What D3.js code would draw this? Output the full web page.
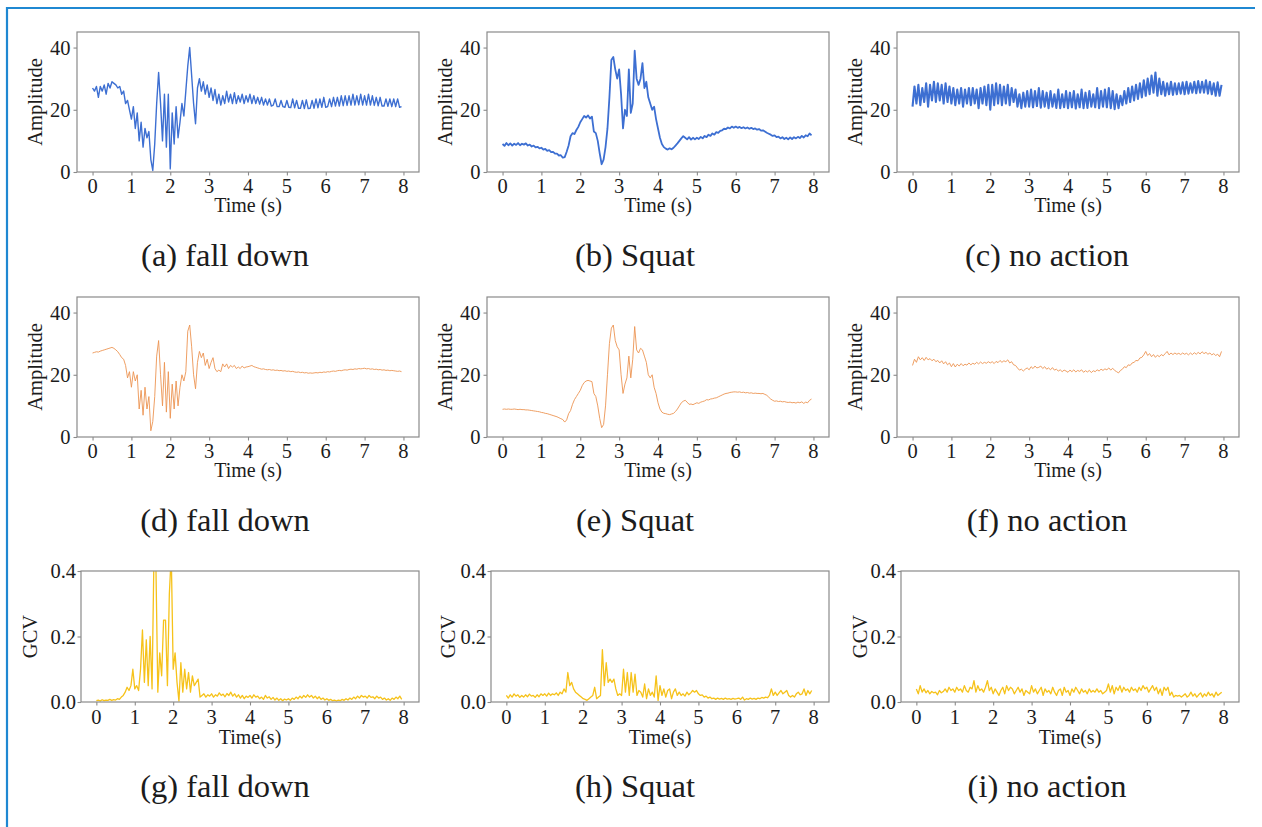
<!DOCTYPE html>
<html>
<head>
<style>
    body { margin: 0; background: #fff; }
    text { font-family: "Liberation Serif", "Times New Roman", serif; fill: #1c1c1c; }
    .frame { fill: none; stroke: #8a8a8a; stroke-width: 1.2; }
    .tick line { stroke: #8a8a8a; stroke-width: 1.1; }
</style>
<script src="https://d3js.org/d3.v7.min.js"></script>
<script>
// sample spacing of every trace (s)
var step = 0.05;
var timeTicks = [0, 1, 2, 3, 4, 5, 6, 7, 8];
var ampTicks = [0, 20, 40];
var gcvTicks = [0.0, 0.2, 0.4];
var captions = ["(a) fall down", "(b) Squat", "(c) no action",
                "(d) fall down", "(e) Squat", "(f) no action",
                "(g) fall down", "(h) Squat", "(i) no action"];

// row 1: raw amplitude
var fallRaw = [27,26,27.5,24,27.5,26,28,25,28.5,27,29,28.5,28,27,27.5,25,26,22,23,20,
    17,21,14,19,10,16,8,14,11,13,4,0.5,9,22,32,22,10,25,8,25,
    1,19,9,21,11,16,22,18,26,34,40,31,22,15.5,27,30,26,29,25,28,
    24,27,23,26.5,22,25,21.5,24.5,22,26,22.5,25,22,25.5,22,24.5,22.5,25,22,24.5,
    22.5,25,22,24.5,22,24,21.8,24,21.5,23.5,21.5,23.5,21.2,21.5,23.5,21,21,23,21,20.8,
    23,20.8,20.7,23.5,20.6,23,20.5,20.5,23,20.4,23.2,20.4,20.5,23,20.5,23.5,20.6,23.5,20.8,24,
    20.8,21,23.5,21,24,21.2,24,21.2,24.5,21.3,24.5,21.4,24.5,21.5,25,21.5,24.5,21.6,25,21.5,
    24.5,21.5,25,21.5,24.5,21.4,24,21.3,24,21.2,21.2,23.5,21.1,23.5,21,23.5,21,23.5,20.8,21];
var squatRaw = [9,8.4,9.3,8.6,9.2,8.5,9.1,8.7,9.3,8.6,9.1,8.8,9.2,8.5,8.8,8.2,8.5,7.9,8.1,7.6,
    7.8,7.2,7.4,6.8,7,6.4,6.5,5.9,5.9,5.3,5.4,4.6,4.8,6.5,8.5,11.5,12.5,12.2,13.5,14.5,
    16,17,18,17.5,18.2,17.2,17.8,13,12.5,10,6,2.5,4,8,14,24,36,37,33,30,
    33,25,14,20,18,33,19,22,39,30,28,30,35,27,29,24,22,20,21,17,
    14,11,9,8,7.5,7.2,7.6,7.3,7.8,8.5,9.2,10,10.8,11.5,11,10.5,11.2,10.4,11,10.5,
    11,10.6,11.3,10.8,11.6,11.2,12,11.6,12.4,12,12.8,12.6,13.2,13.4,13.9,13.8,14.3,14,14.6,14.2,
    14.6,14.2,14.5,14.1,14.4,14,14.3,13.9,14.2,13.8,14,13.6,13.8,13.3,13.4,13,12.6,12.3,12,11.6,
    11.8,11.2,11.4,10.8,11.2,10.6,11,10.5,11.1,10.6,11.2,10.8,11.3,10.9,11.6,11.1,11.8,11.5,12.4,11.8];
var noneRaw = [21,27.5,22,28,21.5,27,22.5,28.5,21,28,23,29,22.5,28.5,23,28,22,28.5,22.5,27.5,
    22,27,21.5,26.5,22,27,21,26.5,22,27,21.5,27,22,26.5,20.5,27,22,27.5,21.5,28,
    20,28,21.5,28.5,22,28,21.5,27.5,22,28,21.5,27,22.5,26.5,21,25,20.5,25.5,21,26,
    21,26.5,20.8,26,21.2,27,20.7,26,21,25.5,20.5,26,21,25,20.6,26.5,20.5,25,20.8,26,
    20.5,25.5,20.8,26,20.4,25,20.8,26.5,20.5,25.5,20.6,26,21,25,20.8,27,20.5,26,21,26.5,
    20.8,27,20.5,26,20.2,25,20.5,24.5,21.5,26,22,27,22.5,27.5,23,28,23.5,28.5,24,29.5,
    24.5,30,25,31,25.5,32,24.5,30,25,29,24.5,28.5,25,29,24.8,28.5,25,28.5,25.2,28.8,
    25,29,25.2,28.5,25.5,29,25.3,29.2,25.5,29,25.5,29.5,25.2,29,25,28.5,24.5,28.8,24.5,28];

// row 2: filtered amplitude
var fallFilt = [27,27.2,27.4,27.3,27.6,27.8,28,28.2,28.4,28.6,28.8,28.5,28,27.4,26.5,25.5,25,23,19,21,
    16,21,18,20,9,15,7,16,9,13,2,5,13,26,31,20,10,24,8,21,
    6,17,9,18,10,16,20,18,21,34,36,29,20,15.5,24,27.5,25.5,27,23,25,
    22,24,25.5,22,21,21.5,21,23.5,22.5,23.5,22,23,22.5,23,22,22.5,22,22.8,22.2,22.5,
    22.6,22.8,23,22.6,22.4,22.2,22,21.8,21.9,21.7,21.6,21.7,21.5,21.6,21.4,21.5,21.3,21.4,21.2,21.3,
    21.1,21.2,21,21.1,20.9,20.8,20.9,20.7,20.8,20.6,20.7,20.5,20.6,20.5,20.6,20.7,20.6,20.8,20.7,20.9,
    20.8,21,20.9,21.1,21.2,21.1,21.3,21.4,21.3,21.5,21.6,21.5,21.7,21.8,21.7,21.9,21.8,22,21.9,22,
    22.1,21.9,22,21.8,21.9,21.7,21.8,21.6,21.7,21.5,21.6,21.4,21.5,21.3,21.4,21.3,21.2,21.1,21.2,21];
var squatFilt = [8.9,9,8.9,9,8.9,8.9,9,8.9,8.8,8.9,8.8,8.8,8.7,8.7,8.6,8.5,8.4,8.3,8.2,8.1,
    7.9,7.8,7.6,7.5,7.3,7.1,6.9,6.7,6.5,6.2,5.9,5.6,4.8,5.5,7.5,8.5,10.5,12,13,14,
    15,16.5,17.5,18,18.2,18,17.8,14,13,10,6,3,4,10,20,30,35,36,31,29,
    28,20,14,17,19,26,19,25,35.5,28,27,28.5,28,26,24,20,19,20,16,14,
    11,9,8,7.6,7.5,7.3,7.2,7.4,7.6,8.2,9,10,11,11.5,11.8,11.2,10.5,10.6,10.4,10.7,
    11,10.8,11.2,11.4,11.6,12,11.9,12.2,12.3,12.5,12.6,12.9,13.2,13.5,13.8,14,14.1,14.3,14.4,14.5,
    14.5,14.4,14.5,14.3,14.4,14.2,14.3,14.1,14.2,14,14.1,14,14,13.9,14,13.7,13.4,12.8,12.2,11.8,
    11.5,11.6,11.4,11.5,11.3,11.4,11.2,11.1,11.2,11,11.1,10.9,11.2,11,11.3,10.8,11.2,11,11.8,12.2];
var noneFilt = [23,25,24,25.8,24.8,25.5,24.6,25.6,24.8,25.2,24.5,25,24.2,24.6,23.8,24.5,23.5,24.2,23.2,23.8,
    22.6,23.6,22.5,23.4,22.8,23.6,22.9,23.4,23.1,23.8,23.2,23.7,23.4,24,23.5,24.1,23.6,24,23.7,24.2,
    23.8,24.2,23.6,24.3,23.9,24.6,24,24.5,24.2,24.8,23.8,24.2,23.2,23,22.2,21.5,21.8,21.2,21.8,22.2,
    21.6,22.6,22,22.8,22.2,22.4,22.8,22,22.6,21.8,22.2,21.6,22.3,21.5,21.8,21.2,21.6,21,21.5,21.2,
    20.8,21.5,21,21.6,20.9,21.4,21.1,21.6,20.8,21.3,20.9,21.4,20.7,21.3,21,21.6,21.2,21.8,21.4,21.9,
    21.6,22.2,21.5,22.1,21.4,21,20.6,21.4,21.8,22.6,22.3,23.2,23,23.8,24,24.6,24.5,25.4,25.6,26.4,
    27.5,26.2,26.8,25.8,26.5,25.6,26.3,25.8,26.5,26.1,26.8,27.5,26.4,27,26.5,27,26.6,26.9,26.5,27,
    26.6,26.9,26.4,27,26.5,27.1,26.6,27.2,26.7,27.4,26.8,27.2,26.6,27,26.4,26.8,26.2,26.6,25.8,27.5];

// row 3: GCV
var fallGcv = [0.004,0.006,0.003,0.007,0.004,0.006,0.005,0.008,0.005,0.007,0.006,0.01,0.008,0.015,0.02,0.03,0.045,0.035,0.05,0.1,
    0.04,0.05,0.035,0.1,0.22,0.06,0.19,0.05,0.2,0.04,0.45,0.42,0.03,0.15,0.08,0.25,0.25,0.05,0.33,0.45,
    0.1,0.15,0.06,0.003,0.12,0.03,0.1,0.04,0.09,0.03,0.08,0.05,0.06,0.07,0.015,0.02,0.025,0.015,0.022,0.018,
    0.025,0.015,0.022,0.018,0.028,0.02,0.024,0.016,0.026,0.02,0.03,0.018,0.025,0.015,0.022,0.012,0.02,0.01,0.018,0.014,
    0.02,0.012,0.022,0.015,0.018,0.01,0.015,0.008,0.02,0.012,0.016,0.008,0.014,0.006,0.012,0.005,0.01,0.004,0.009,0.006,
    0.01,0.005,0.012,0.008,0.015,0.01,0.018,0.012,0.02,0.014,0.022,0.015,0.02,0.012,0.018,0.01,0.016,0.008,0.012,0.006,
    0.01,0.005,0.008,0.004,0.006,0.003,0.006,0.004,0.008,0.005,0.01,0.006,0.012,0.008,0.015,0.01,0.018,0.012,0.02,0.015,
    0.018,0.012,0.02,0.014,0.016,0.01,0.018,0.012,0.015,0.008,0.012,0.006,0.01,0.005,0.012,0.008,0.015,0.01,0.018,0.008];
var squatGcv = [0.02,0.012,0.022,0.015,0.025,0.018,0.022,0.014,0.02,0.015,0.022,0.016,0.024,0.018,0.02,0.014,0.022,0.016,0.025,0.02,
    0.025,0.018,0.027,0.02,0.025,0.022,0.028,0.02,0.03,0.025,0.04,0.03,0.09,0.05,0.06,0.04,0.03,0.025,0.02,0.015,
    0.01,0.008,0.005,0.01,0.015,0.02,0.045,0.01,0.015,0.02,0.16,0.05,0.12,0.06,0.07,0.06,0.07,0.04,0.02,0.025,
    0.02,0.1,0.03,0.09,0.02,0.09,0.03,0.085,0.02,0.035,0.03,0.015,0.055,0.01,0.04,0.02,0.03,0.015,0.08,0.005,
    0.05,0.02,0.04,0.015,0.035,0.04,0.01,0.03,0.04,0.02,0.03,0.02,0.025,0.018,0.03,0.022,0.028,0.035,0.03,0.035,
    0.025,0.02,0.022,0.015,0.018,0.012,0.015,0.01,0.012,0.008,0.012,0.009,0.011,0.008,0.012,0.009,0.01,0.008,0.011,0.009,
    0.01,0.012,0.008,0.015,0.006,0.01,0.008,0.012,0.009,0.011,0.008,0.012,0.01,0.014,0.012,0.015,0.013,0.02,0.04,0.02,
    0.03,0.02,0.028,0.035,0.025,0.03,0.035,0.02,0.015,0.02,0.015,0.025,0.03,0.022,0.025,0.04,0.02,0.035,0.025,0.035];
var noneGcv = [0.04,0.025,0.05,0.03,0.04,0.028,0.035,0.025,0.032,0.028,0.03,0.022,0.035,0.028,0.032,0.04,0.03,0.045,0.035,0.04,
    0.03,0.045,0.035,0.04,0.03,0.05,0.035,0.03,0.045,0.04,0.065,0.03,0.05,0.035,0.04,0.03,0.045,0.065,0.035,0.045,
    0.025,0.04,0.03,0.02,0.035,0.045,0.025,0.05,0.035,0.045,0.04,0.025,0.035,0.045,0.03,0.04,0.02,0.035,0.03,0.025,
    0.05,0.03,0.04,0.025,0.035,0.045,0.02,0.04,0.03,0.035,0.025,0.045,0.03,0.02,0.035,0.04,0.02,0.045,0.03,0.035,
    0.02,0.04,0.03,0.045,0.035,0.025,0.04,0.03,0.035,0.025,0.04,0.03,0.035,0.03,0.04,0.03,0.035,0.025,0.03,0.035,
    0.055,0.03,0.05,0.025,0.045,0.035,0.05,0.03,0.045,0.035,0.04,0.03,0.045,0.035,0.04,0.03,0.045,0.035,0.05,0.04,
    0.045,0.03,0.04,0.05,0.035,0.045,0.025,0.04,0.02,0.045,0.035,0.045,0.02,0.03,0.015,0.02,0.018,0.02,0.015,0.02,
    0.025,0.015,0.02,0.03,0.018,0.025,0.015,0.022,0.028,0.015,0.025,0.018,0.03,0.02,0.025,0.015,0.03,0.02,0.025,0.03];

var width = 1262, height = 827;

function drawPanel(svg, p) {
    var x = d3.scaleLinear().domain([-0.4, 8.4]).range([p.left, p.left + p.w]);
    var y = d3.scaleLinear().domain(p.ydom).range([p.top + p.h, p.top]);
    var g = svg.append("g");

    g.append("clipPath").attr("id", "clip" + p.idx)
        .append("rect").attr("x", p.left).attr("y", p.top).attr("width", p.w).attr("height", p.h);

    var line = d3.line()
        .x(function (d, i) { return x(i * step); })
        .y(function (d) { return y(d); });

    g.append("path")
        .datum(p.data)
        .attr("clip-path", "url(#clip" + p.idx + ")")
        .attr("d", line)
        .attr("fill", "none")
        .attr("stroke", p.color)
        .attr("stroke-width", p.sw)
        .attr("stroke-linejoin", "round");

    var xAxis = d3.axisBottom(x).tickValues(timeTicks).tickSize(3.5).tickFormat("");
    g.append("g").attr("transform", "translate(0," + (p.top + p.h) + ")").call(xAxis)
        .call(function (s) { s.select(".domain").remove(); });
    var yAxis = d3.axisLeft(y).tickValues(p.yticks).tickSize(3.5).tickFormat("");
    g.append("g").attr("transform", "translate(" + p.left + ",0)").call(yAxis)
        .call(function (s) { s.select(".domain").remove(); });

    g.append("rect").attr("class", "frame")
        .attr("x", p.left).attr("y", p.top).attr("width", p.w).attr("height", p.h);

    g.selectAll(".xl").data(timeTicks).enter().append("text")
        .attr("x", function (d) { return x(d); })
        .attr("y", p.top + p.h + p.tickGap)
        .attr("text-anchor", "middle")
        .style("font-size", "20.5px")
        .text(function (d) { return d; });

    g.selectAll(".yl").data(p.yticks).enter().append("text")
        .attr("x", p.left - p.ypad)
        .attr("y", function (d) { return y(d) + 7; })
        .attr("text-anchor", "end")
        .style("font-size", "20.5px")
        .text(p.yfmt);

    g.append("text")
        .attr("x", p.left + p.w / 2)
        .attr("y", p.top + p.h + p.labelGap)
        .attr("text-anchor", "middle")
        .style("font-size", "20px")
        .text(p.xlabel);

    g.append("text")
        .attr("transform", "translate(" + (p.left + p.ylabOff) + "," + (p.top + p.h / 2) + ") rotate(-90)")
        .attr("text-anchor", "middle")
        .style("font-size", "20.5px")
        .text(p.ylabel);

    g.append("text")
        .attr("x", p.capX)
        .attr("y", p.capY)
        .attr("text-anchor", "middle")
        .style("font-size", "32.5px")
        .text(captions[p.idx]);
}

function load() {
    var svg = d3.select("body").append("svg")
        .attr("width", width).attr("height", height);

    // outer blue frame (left and top edges visible)
    svg.append("path")
        .attr("d", "M7,827 L7,8 L1255,8")
        .attr("fill", "none").attr("stroke", "#1f88d2").attr("stroke-width", 2.2);

    var series = [fallRaw, squatRaw, noneRaw, fallFilt, squatFilt, noneFilt, fallGcv, squatGcv, noneGcv];
    var colors = ["#3d6fd2", "#ec9452", "#f6c21a"];
    var widths = [[1.4, 1.8, 2.1], [0.9, 0.9, 0.9], [1.3, 1.3, 1.3]];
    var rowTop = [32, 297, 571], rowH = [140, 140, 131];
    var colLeft = [[77, 487, 897], [77, 487, 897], [81, 491, 901]];
    var colW = [342, 342, 338];
    var capX = [225, 635, 1047], capY = [266, 531, 797];
    var ylabOff = [[-35, -35, -35], [-35, -35, -35], [-44, -36, -34]];

    series.forEach(function (data, idx) {
        var r = Math.floor(idx / 3), c = idx % 3;
        drawPanel(svg, {
            idx: idx,
            data: data,
            color: colors[r],
            sw: widths[r][c],
            left: colLeft[r][c], top: rowTop[r], w: colW[r], h: rowH[r],
            ydom: r < 2 ? [0, 45] : [0, 0.4],
            yticks: r < 2 ? ampTicks : gcvTicks,
            yfmt: r < 2 ? function (d) { return d; } : d3.format(".1f"),
            ypad: r < 2 ? 6.5 : 5,
            tickGap: r < 2 ? 21 : 22,
            labelGap: r < 2 ? 40 : 42,
            xlabel: r < 2 ? "Time (s)" : "Time(s)",
            ylabel: r < 2 ? "Amplitude" : "GCV",
            ylabOff: ylabOff[r][c],
            capX: capX[c], capY: capY[r]
        });
    });
}
</script>
</head>
<body onload="load()">
</body>
</html>
